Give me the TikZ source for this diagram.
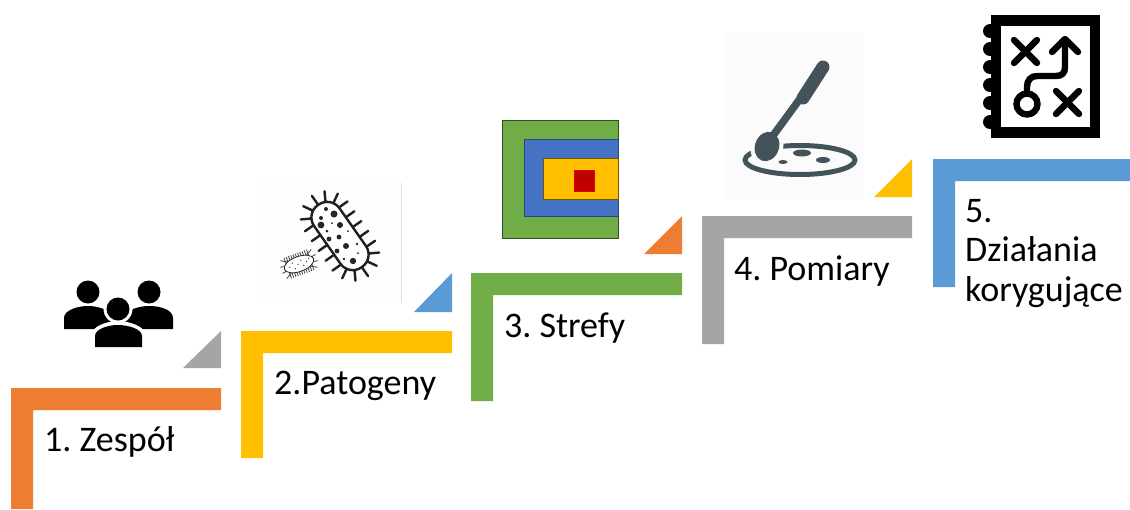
\documentclass[tikz,border=0pt]{standalone}
\usepackage{fontspec}
\setmainfont{Carlito}[WordSpace=0.65]
\definecolor{cOrange}{HTML}{ED7D31}
\definecolor{cYellow}{HTML}{FFC000}
\definecolor{cGreen}{HTML}{70AD47}
\definecolor{cGray}{HTML}{A5A5A5}
\definecolor{cBlue}{HTML}{5B9BD5}
\definecolor{cZone}{HTML}{4472C4}
\definecolor{cSlate}{HTML}{44525A}
\tikzset{
  steplabel/.style={anchor=base west,inner sep=0pt,font=\fontsize{36}{40}\selectfont,text=black},
  zone/.style={line width=1pt},
  spike/.style={line width=2.4pt,line cap=round,black!88},
  tiny spike/.style={line width=.8pt,black!75},
  xmark/.style={line width=6.4pt,line cap=round,black},
}
\begin{document}
\begin{tikzpicture}[x=1pt,y=-1pt]
\useasboundingbox (0,0) rectangle (1130,509);
\fill[white] (0,0) rectangle (1130,509);
% stairs
\fill[cOrange] (11,388) -- (221,388) -- (221,410) -- (33,410) -- (33,509) -- (11,509) -- cycle;
\fill[cYellow] (241,331) -- (452,331) -- (452,353) -- (263,353) -- (263,458) -- (241,458) -- cycle;
\fill[cGreen] (471,273) -- (682,273) -- (682,295) -- (493,295) -- (493,401) -- (471,401) -- cycle;
\fill[cGray] (702,216) -- (912,216) -- (912,238) -- (724,238) -- (724,344) -- (702,344) -- cycle;
\fill[cBlue] (933,159) -- (1130,159) -- (1130,181) -- (955,181) -- (955,287) -- (933,287) -- cycle;
% corner triangles
\fill[cGray] (183,368) -- (221,368) -- (221,331) -- cycle;
\fill[cBlue] (414,312) -- (452,312) -- (452,273) -- cycle;
\fill[cOrange] (644,254) -- (682,254) -- (682,216) -- cycle;
\fill[cYellow] (874,197) -- (912,197) -- (912,159) -- cycle;
% labels
\node[steplabel] (l1) at (44,451) {1. Zespół};
\node[steplabel] (l2) at (274,394) {2.Patogeny};
\node[steplabel] (l3) at (504,337) {3. Strefy};
\node[steplabel] (l4) at (734,280) {4. Pomiary};
\node[steplabel] (l5a) at (965,222) {5.};
\node[steplabel] (l5b) at (965,261) {Działania};
\node[steplabel] (l5c) at (965,301) {korygujące};
% people icon
\fill[black] (88,292) circle (11.5);
\fill[black] (149,292) circle (11.5);
\fill[black] (64,329) -- (64,318) .. controls (64,310) and (78,306) .. (88,306) .. controls (98,306) and (112,310) .. (112,318) -- (112,329) -- cycle;
\fill[black] (125,329) -- (125,318) .. controls (125,310) and (139,306) .. (149,306) .. controls (161,306) and (173,310) .. (173,318) -- (173,329) -- cycle;
\fill[white] (118,309) circle (14.5);
\fill[white] (91,351) -- (91,336) .. controls (91,326) and (108,321) .. (118,321) .. controls (128,321) and (146,326) .. (146,336) -- (146,351) -- cycle;
\fill[black] (118,309) circle (11.5);
\fill[black] (95,347) -- (95,336) .. controls (95,329) and (108,325) .. (118,325) .. controls (128,325) and (142,329) .. (142,336) -- (142,347) -- cycle;
% bacteria icon
\fill[black!.6] (257,183) rectangle (401,303);
\draw[black!12,line width=.6pt] (401,183) -- (401,303);
\begin{scope}[shift={(340,236)},rotate=-55]
  \foreach \sx in {-24,-12,0,12,24}{
    \draw[spike] (\sx,-15) -- (\sx,-26);
    \draw[spike] (\sx,15) -- (\sx,26);
  }
  \foreach \a in {-60,-30,0,30,60}{
    \draw[spike] (-23,0) ++(180-\a:15) -- ++(180-\a:11);
    \draw[spike] (23,0) ++(\a:15) -- ++(\a:11);
  }
  \draw[line width=2.4pt,black!88,fill=white,rounded corners=15pt] (-38,-15.5) rectangle (38,15.5);
\end{scope}
\foreach \px/\py/\pr in {326/209/2,334/214/3.5,321/218/2,321/225/3.4,332/223/1,340/225/3,327/231/1.5,348/231/1,329/239/2.4,339/237/2.4,346/246/3,357/244/1.4,337/251/2.4,344/259/1.4,353/261/3.2,358/253/1}{
  \fill[black!85] (\px,\py) circle (\pr);
}
\begin{scope}[shift={(299,264)},rotate=20]
  \foreach \sx in {-12,-9.6,...,12}{
    \draw[tiny spike] (\sx,-11) -- (\sx,11);
  }
  \foreach \sa in {150,170,190,210,-30,-10,10,30}{
    \draw[tiny spike] (0,0) -- (\sa:19);
  }
  \draw[line width=.8pt,black!85,fill=white] (0,0) ellipse (15.5 and 7.5);
  \foreach \sx/\sy in {-10/0,-6/-3,-5/3,-1/0,3/-3,4/3,8/0,11/-2}{
    \fill[black!75] (\sx,\sy) circle (.7);
  }
\end{scope}
% zones icon
\filldraw[zone,fill=cGreen,draw=cGreen!45!black] (502,120) rectangle (618,238);
\filldraw[zone,fill=cZone,draw=cZone!60!black] (524,139) rectangle (618,216);
\filldraw[zone,fill=cYellow,draw=cYellow!45!black] (543,158) rectangle (618,199);
\filldraw[zone,fill=red!75!black,draw=red!90!black] (574,170) rectangle (594,191);
% petri dish and spoon icon
\fill[black!1.5] (725,32) rectangle (864,199);
\draw[cSlate,line width=5pt] (800,160) ellipse (55 and 14.5);
\begin{scope}[shift={(768,147)},rotate=-20]
  \fill[black!1.5] (-1,0) ellipse (16 and 19.5);
\end{scope}
\fill[black!1.5] (747,120) -- (786,120) -- (785,142) -- (747,148) -- cycle;
\begin{scope}[shift={(767,146.5)},rotate=-20]
  \fill[cSlate] (0,0) ellipse (12 and 15);
\end{scope}
\draw[cSlate,line width=7.5pt] (772,137) -- (802,96);
\draw[cSlate,line width=13pt,line cap=round] (803,98) -- (823,67);
\fill[cSlate] (802,153) ellipse (9 and 3.5);
\fill[cSlate] (823,160) ellipse (7 and 3);
\fill[cSlate] (783,162) ellipse (4.5 and 2);
% plan icon
\fill[black] (991,15) rectangle (1100,138);
\fill[white] (1001,26) rectangle (1090,127);
\foreach \by in {31,49,67,85,103,122}{
  \fill[black] (990,\by) circle (7);
}
\draw[xmark] (1014,40) -- (1037,63);
\draw[xmark] (1014,63) -- (1037,40);
\draw[xmark] (1056,91) -- (1079,114);
\draw[xmark] (1056,114) -- (1079,91);
\draw[black,line width=6.4pt] (1027,104) circle (10.5);
\draw[black,line width=6.4pt] (1027,93) -- (1027,87) .. controls (1027,80) and (1031,76) .. (1037,76) -- (1056,76) .. controls (1062,76) and (1065,73) .. (1065,67) -- (1065,42);
\draw[black,line width=6.4pt,line cap=round,line join=round] (1052,52) -- (1065,39) -- (1078,52);
\end{tikzpicture}
\end{document}
